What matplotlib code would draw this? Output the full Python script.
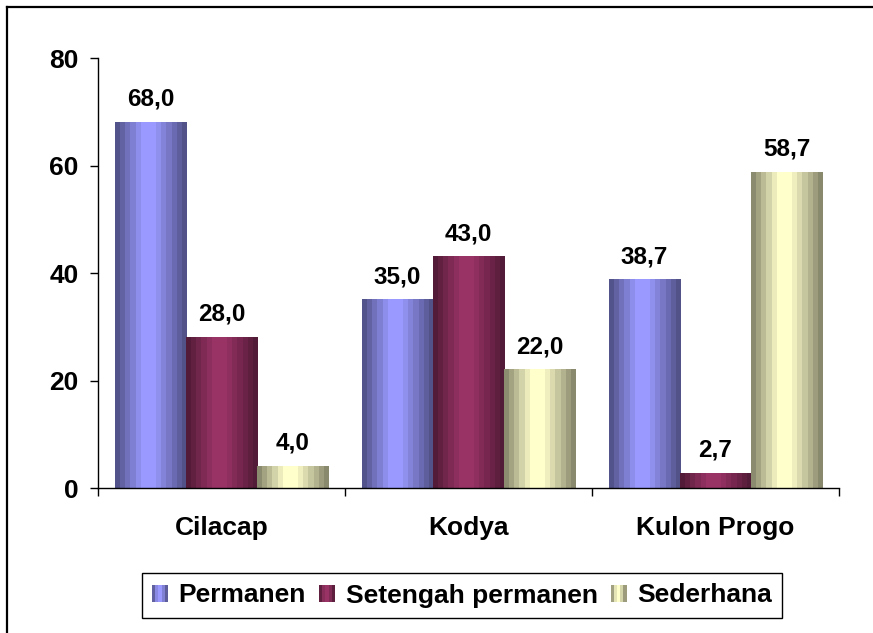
import numpy as np
import matplotlib
matplotlib.use("Agg")
import matplotlib.pyplot as plt
import matplotlib.colors as mcolors
from matplotlib.patches import Rectangle, Patch
from matplotlib.legend_handler import HandlerBase
from matplotlib.lines import Line2D

# --- Data ---
categories = ["Cilacap", "Kodya", "Kulon Progo"]
series_names = ["Permanen", "Setengah permanen", "Sederhana"]
permanen = [68.0, 35.0, 38.7]
setengah_permanen = [28.0, 43.0, 2.7]
sederhana = [4.0, 22.0, 58.7]
series_colors = ["#9999ff", "#993366", "#ffffcc"]
y_ticks = [0, 20, 40, 60, 80]

plt.rcParams["font.family"] = ["Liberation Sans", "DejaVu Sans"]
plt.rcParams["font.weight"] = "bold"


def shade(hex_color, n=14):
    """Excel-like banded horizontal gradient: dark edges, light middle."""
    base = np.array(mcolors.to_rgb(hex_color))
    t = (np.arange(n) + 0.5) / n
    f = np.interp(t, [0.0, 0.38, 0.55, 1.0], [0.5, 1.0, 1.0, 0.5])
    return np.clip(base[None, :] * f[:, None], 0, 1)


class GradientHandler(HandlerBase):
    def __init__(self, color):
        super().__init__()
        self.color = color

    def create_artists(self, legend, orig_handle, xdescent, ydescent,
                       width, height, fontsize, trans):
        stripes = shade(self.color, 5)
        n = len(stripes)
        arts = []
        for i, c in enumerate(stripes):
            arts.append(Rectangle((-xdescent + i * width / n, -ydescent),
                                  width / n, height, facecolor=c,
                                  edgecolor="none", transform=trans))
        return arts


fig = plt.figure(figsize=(8.73, 6.33), dpi=100)
ax = fig.add_axes([98 / 873, 1 - 488 / 633, (839 - 98) / 873, (488 - 58) / 633])

x = np.arange(len(categories))
width = 0.2875
all_series = [permanen, setengah_permanen, sederhana]

for k, (vals, col) in enumerate(zip(all_series, series_colors)):
    bars = ax.bar(x + (k - 1) * width, vals, width, color=col, linewidth=0, zorder=2)
    img = shade(col)[None, :, :]
    for rect, v in zip(bars, vals):
        x0 = rect.get_x()
        ax.imshow(img, extent=[x0, x0 + rect.get_width(), 0, rect.get_height()],
                  aspect="auto", interpolation="nearest", zorder=2.5)
        ax.annotate(f"{v:.1f}".replace(".", ","),
                    (x0 + rect.get_width() / 2, v),
                    xytext=(0, 12), textcoords="offset points",
                    ha="center", va="baseline", fontsize=17.5, fontweight="bold")

ax.set_xlim(-0.5, len(categories) - 0.5)
ax.set_ylim(0, 80)
ax.set_aspect("auto")

ax.set_xticks(x)
ax.set_xticklabels(categories, fontsize=19, fontweight="bold")
ax.set_xticks(np.arange(len(categories) + 1) - 0.5, minor=True)
ax.tick_params(axis="x", which="major", length=0, pad=20)
ax.tick_params(axis="x", which="minor", length=5.8, width=1, direction="out")
ax.set_yticks(y_ticks)
ax.set_yticklabels([str(t) for t in y_ticks], fontsize=19, fontweight="bold")
ax.tick_params(axis="y", length=5.8, width=1, direction="out", pad=8)

for side in ("top", "right"):
    ax.spines[side].set_visible(False)
ax.spines["left"].set_linewidth(1)
ax.spines["bottom"].set_linewidth(1)
ax.spines["bottom"].set_zorder(3)

# Legend with striped swatches
proxies = [Patch(label=n) for n in series_names]
hmap = {p: GradientHandler(c) for p, c in zip(proxies, series_colors)}
leg = fig.legend(handles=proxies, labels=series_names, handler_map=hmap,
                 loc="center", bbox_to_anchor=(462 / 873, 1 - 595.5 / 633),
                 ncol=3, fontsize=19, frameon=True, fancybox=False,
                 edgecolor="black", framealpha=1, handlelength=0.6,
                 handleheight=0.62, handletextpad=0.4, columnspacing=0.5,
                 borderpad=0.4, borderaxespad=0)
leg.get_frame().set_linewidth(1)
for t in leg.get_texts():
    t.set_fontweight("bold")

# Outer frame (top and left edges visible)
fig.add_artist(Line2D([7 / 873, 1], [1 - 7 / 633, 1 - 7 / 633],
                      transform=fig.transFigure, color="black", lw=1.6))
fig.add_artist(Line2D([7 / 873, 7 / 873], [0, 1 - 7 / 633],
                      transform=fig.transFigure, color="black", lw=1.6))

fig.savefig("out.png", dpi=100)
